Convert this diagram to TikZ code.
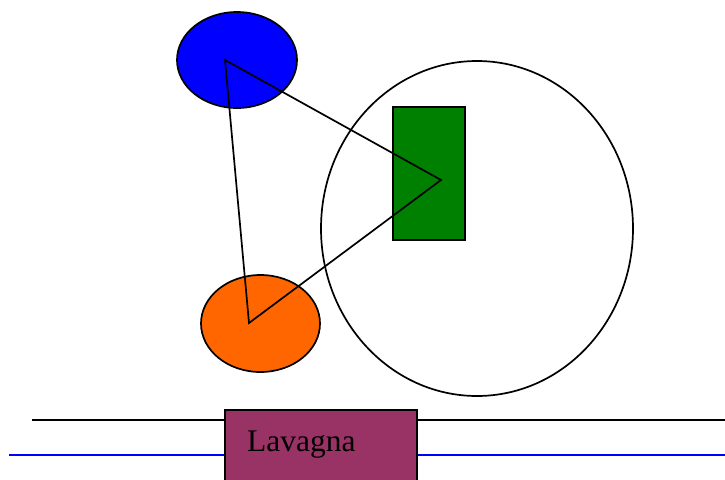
\documentclass[tikz,border=0pt]{standalone}
\usepackage{fontspec}
\setmainfont{Liberation Serif}
\usetikzlibrary{shapes.geometric}
\definecolor{myblue}{RGB}{0,0,255}
\definecolor{myorange}{RGB}{255,102,0}
\definecolor{mygreen}{RGB}{0,128,0}
\definecolor{mymag}{RGB}{153,51,102}
\tikzset{
  shp/.style={draw=black, line width=1.7pt, inner sep=0pt, outer sep=0pt},
  oval/.style={shp, ellipse},
  box/.style={shp, rectangle},
  edge/.style={draw=black, line width=1.7pt},
}
\begin{document}
\begin{tikzpicture}[x=1pt,y=-1pt]
\useasboundingbox (0,0) rectangle (725,479);
\clip (0,0) rectangle (725,479);
% big circle
\node[oval, minimum width=312pt, minimum height=335pt] (room) at (477,228.5) {};
% green rectangle
\node[box, fill=mygreen, minimum width=72pt, minimum height=133pt] (green) at (429,173.5) {};
% blue ellipse
\node[oval, fill=myblue, minimum width=120pt, minimum height=96pt] (blueE) at (237,60) {};
% orange ellipse
\node[oval, fill=myorange, minimum width=119pt, minimum height=97pt] (orangeE) at (260.5,323.5) {};
% triangle vertices
\coordinate (t1) at (225,60);
\coordinate (t2) at (441,180);
\coordinate (t3) at (249,323);
\draw[edge, line join=miter] (t1) -- (t2) -- (t3) -- cycle;
% lines
\coordinate (bl) at (32,420);
\coordinate (br) at (726,420);
\coordinate (ul) at (9,455);
\coordinate (ur) at (726,455);
\draw[edge] (bl) -- (br);
\draw[line width=1.7pt, draw=myblue] (ul) -- (ur);
% board
\node[box, fill=mymag, minimum width=192pt, minimum height=90pt] (board) at (321,455) {};
\node[anchor=base west, inner sep=0pt, font=\fontsize{31.5}{36}\selectfont] (lavagna) at (247,451) {Lavagna};
\end{tikzpicture}
\end{document}
